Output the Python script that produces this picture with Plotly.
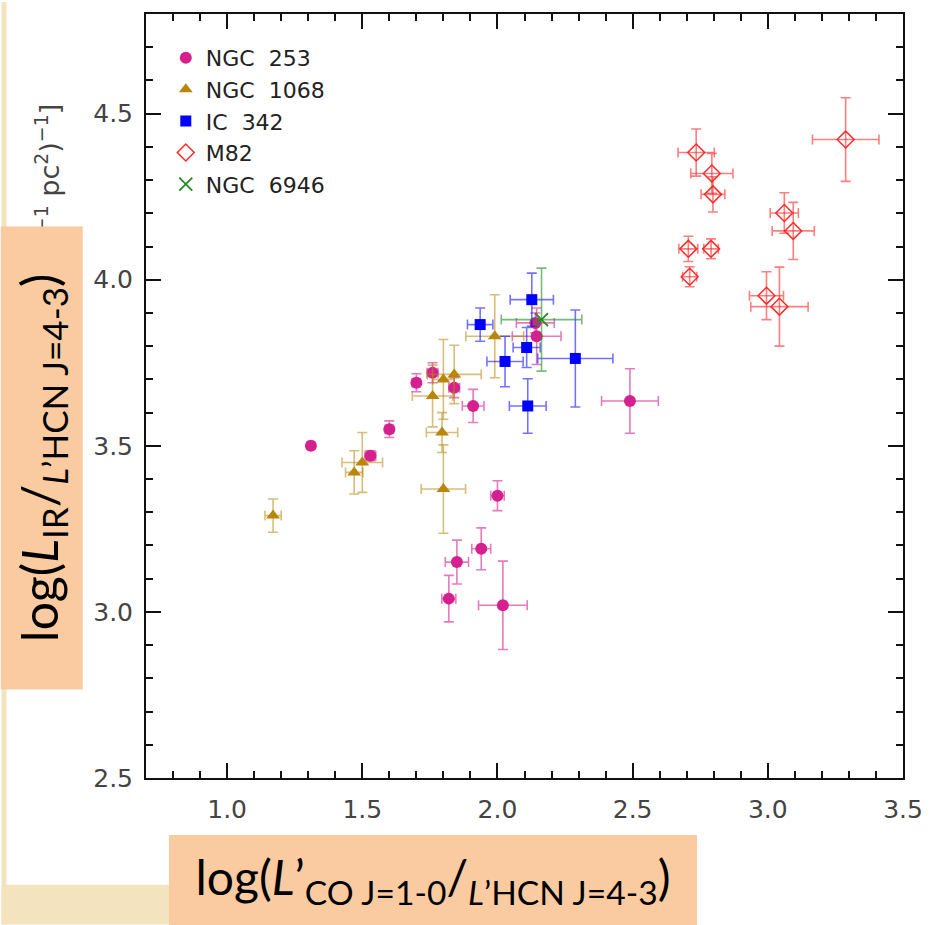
import plotly.graph_objects as go

# ---------------- data ----------------
ngc253_x    = [1.31, 1.53, 1.60, 1.70, 1.76, 1.84, 1.91, 2.14, 2.145, 2.49, 2.00, 1.94, 1.85, 1.82, 2.02]
ngc253_y    = [3.50, 3.47, 3.55, 3.69, 3.72, 3.675, 3.62, 3.87, 3.83, 3.635, 3.35, 3.19, 3.15, 3.04, 3.02]
ngc253_xerr = [0.01, 0.02, 0.015, 0.015, 0.02, 0.02, 0.04, 0.07, 0.09, 0.105, 0.025, 0.035, 0.043, 0.026, 0.09]
ngc253_yerr = [0.01, 0.015, 0.025, 0.027, 0.03, 0.03, 0.05, 0.03, 0.085, 0.097, 0.045, 0.063, 0.066, 0.07, 0.133]

ngc1068_x    = [1.17, 1.47, 1.50, 1.76, 1.80, 1.84, 1.795, 1.80, 1.99]
ngc1068_y    = [3.29, 3.42, 3.45, 3.65, 3.70, 3.715, 3.54, 3.37, 3.83]
ngc1068_xerr = [0.03, 0.032, 0.075, 0.075, 0.04, 0.10, 0.058, 0.082, 0.107]
ngc1068_yerr = [0.05, 0.065, 0.09, 0.093, 0.12, 0.088, 0.06, 0.133, 0.125]

ic342_x    = [2.127, 1.936, 2.028, 2.108, 2.288, 2.112]
ic342_y    = [3.94, 3.865, 3.754, 3.796, 3.763, 3.62]
ic342_xerr = [0.08, 0.047, 0.067, 0.05, 0.139, 0.068]
ic342_yerr = [0.08, 0.05, 0.076, 0.06, 0.146, 0.082]

m82_x    = [2.735, 2.793, 2.797, 3.288, 3.061, 3.094, 2.706, 2.790, 2.711, 2.995, 3.043]
m82_y    = [4.383, 4.32, 4.257, 4.422, 4.201, 4.147, 4.093, 4.093, 4.009, 3.952, 3.919]
m82_xerr = [0.067, 0.078, 0.044, 0.123, 0.052, 0.078, 0.035, 0.027, 0.026, 0.063, 0.106]
m82_yerr = [0.071, 0.06, 0.053, 0.126, 0.061, 0.086, 0.038, 0.03, 0.03, 0.072, 0.119]

ngc6946_x    = [2.163]
ngc6946_y    = [3.88]
ngc6946_xerr = [0.149]
ngc6946_yerr = [0.155]

x_range = [0.7, 3.5]
y_range = [2.5, 4.8]

# ---------------- layout geometry (pixels) ----------------
W, H = 935, 925
L, R, T, B = 146, 911, 12, 778


def px(xp):
    return (xp - L) / (R - L)


def py(yp):
    return (B - yp) / (B - T)


def err(vals, color):
    return dict(type="data", array=vals, visible=True, color=color,
                thickness=1.6, width=5)


fig = go.Figure()

series = [
    ("NGC\u00a0\u00a0253", ngc253_x, ngc253_y, ngc253_xerr, ngc253_yerr,
     dict(symbol="circle", size=12, color="#D4218F"), "rgba(212,33,143,0.6)"),
    ("NGC\u00a0\u00a01068", ngc1068_x, ngc1068_y, ngc1068_xerr, ngc1068_yerr,
     dict(symbol="triangle-up", size=12, color="#B8860B"), "rgba(184,134,11,0.55)"),
    ("IC\u00a0\u00a0342", ic342_x, ic342_y, ic342_xerr, ic342_yerr,
     dict(symbol="square", size=11, color="#0000FF"), "rgba(0,0,255,0.55)"),
    ("M82", m82_x, m82_y, m82_xerr, m82_yerr,
     dict(symbol="diamond-open", size=13, color="#FF2A2A", line=dict(width=1.5, color="#FF2A2A")),
     "rgba(255,40,40,0.6)"),
    ("NGC\u00a0\u00a06946", ngc6946_x, ngc6946_y, ngc6946_xerr, ngc6946_yerr,
     dict(symbol="x-thin", size=13, color="#228B22", line=dict(width=1.8, color="#228B22")),
     "rgba(34,139,34,0.6)"),
]

for name, xs, ys, xe, ye, mk, ecol in series:
    fig.add_trace(go.Scatter(
        x=xs, y=ys, mode="markers", name=name, marker=mk,
        error_x=err(xe, ecol), error_y=err(ye, ecol),
    ))

tick_family = "DejaVu Sans"

axis_common = dict(
    showgrid=False, zeroline=False, showline=True, linecolor="#111", linewidth=2,
    mirror="ticks", ticks="inside", ticklen=15, tickwidth=1.5, tickcolor="#111",
    tick0=0, dtick=0.5, tickformat=".1f",
    tickfont=dict(family=tick_family, size=25, color="#444"),
    minor=dict(dtick=0.1, tick0=0, ticks="inside", ticklen=7, tickwidth=1.5, tickcolor="#111"),
)

fig.update_layout(
    width=W, height=H,
    margin=dict(l=L, r=W - R, t=T, b=H - B, pad=0),
    paper_bgcolor="white", plot_bgcolor="white",
    xaxis=dict(range=x_range, ticklabelstandoff=8, **axis_common),
    yaxis=dict(range=y_range, ticklabelstandoff=6, **axis_common),
    showlegend=True,
    legend=dict(x=px(166), y=py(35), xanchor="left", yanchor="top",
                bgcolor="rgba(0,0,0,0)", borderwidth=0,
                font=dict(family=tick_family, size=22, color="#222"),
                itemsizing="trace"),
)

# slide background strips (beige)
beige = "#F3E4BF"
fig.add_shape(type="rect", xref="paper", yref="paper", x0=px(0), x1=px(5), y0=py(925), y1=py(0),
              fillcolor=beige, line_width=0, layer="below")
fig.add_shape(type="rect", xref="paper", yref="paper", x0=px(0), x1=px(175), y0=py(925), y1=py(885),
              fillcolor=beige, line_width=0, layer="below")

# original y-axis title (mostly covered by the label box)
fig.add_annotation(
    xref="paper", yref="paper", x=px(48), y=py(100), xanchor="center", yanchor="top",
    textangle=-90, showarrow=False,
    text="log(L<sub>IR</sub>/L'<sub>HCN</sub>) [L<sub>\u2299</sub> (K km s<sup>\u22121</sup> pc<sup>2</sup>)<sup>\u22121</sup>]",
    font=dict(family=tick_family, size=27, color="#444"),
)

box_col = "#FACBA1"
# y label box
fig.add_annotation(
    xref="paper", yref="paper", x=px(41), y=py(457.5), xanchor="center", yanchor="middle",
    textangle=-90, showarrow=False, width=463, height=82, bgcolor=box_col, borderpad=0, borderwidth=0,
    text="log(<i>L</i><sub>IR</sub>/<sub><i>L</i>\u2019HCN J=4-3</sub>)",
    font=dict(family="Lato", size=50, color="black"),
)
# x label box
fig.add_annotation(
    xref="paper", yref="paper", x=px(436), y=py(880), xanchor="center", yanchor="middle",
    showarrow=False, width=528, height=90, bgcolor=box_col, borderpad=0, borderwidth=0,
    text="log(<i>L</i>\u2019<sub>CO J=1-0</sub>/<sub><i>L</i>\u2019HCN J=4-3</sub>)",
    font=dict(family="Lato", size=48, color="black"),
)

fig.write_html("out.html")
